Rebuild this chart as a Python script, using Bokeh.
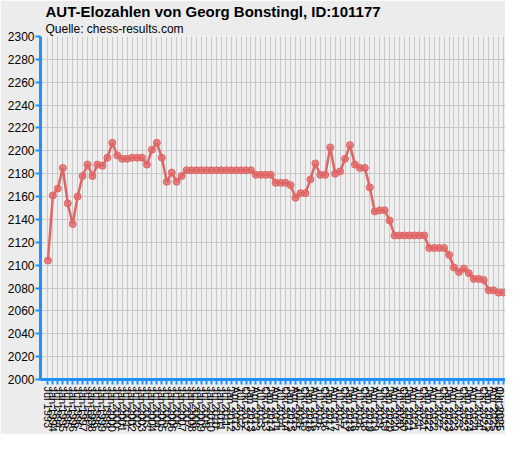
import math
from bokeh.plotting import figure
from bokeh.models import Title, FixedTicker, Range1d, AllLabels, ColumnDataSource
from bokeh.embed import file_html
from bokeh.resources import INLINE

dates = [
    "Jul 1993",
    "Jan 1994", "Jul 1994", "Jan 1995", "Jul 1995", "Jan 1996", "Jul 1996",
    "Jan 1997", "Jul 1997", "Jan 1998", "Jul 1998", "Jan 1999", "Jul 1999",
    "Jan 2000", "Jul 2000", "Jan 2001", "Jul 2001", "Jan 2002", "Jul 2002",
    "Jan 2003", "Jul 2003", "Jan 2004", "Jul 2004", "Jan 2005", "Jul 2005",
    "Jan 2006", "Jul 2006", "Jan 2007", "Jul 2007", "Jan 2008", "Jul 2008",
    "Jan 2009", "Jul 2009", "Jan 2010", "Jul 2010", "Jan 2011", "Jul 2011",
    "Jan 2012", "Apr 2012", "Jul 2012", "Okt 2012",
    "Jan 2013", "Apr 2013", "Jul 2013", "Okt 2013",
    "Jan 2014", "Apr 2014", "Jul 2014", "Okt 2014",
    "Jan 2015", "Apr 2015", "Jul 2015", "Okt 2015",
    "Jan 2016", "Apr 2016", "Jul 2016", "Okt 2016",
    "Jan 2017", "Apr 2017", "Jul 2017", "Okt 2017",
    "Jan 2018", "Apr 2018", "Jul 2018", "Okt 2018",
    "Jan 2019", "Apr 2019", "Jul 2019", "Okt 2019",
    "Jan 2020", "Apr 2020", "Jul 2020", "Okt 2020",
    "Jan 2021", "Apr 2021", "Jul 2021", "Okt 2021",
    "Jan 2022", "Apr 2022", "Jul 2022", "Okt 2022",
    "Jan 2023", "Apr 2023", "Jul 2023", "Okt 2023",
    "Jan 2024", "Apr 2024", "Jul 2024", "Okt 2024",
    "Jan 2025", "Apr 2025", "Jul 2025", "Okt 2025",
]

elo = [
    2104, 2161, 2167, 2185, 2154, 2136, 2160, 2178, 2188, 2178,
    2188, 2187, 2194, 2207, 2196, 2193, 2193, 2194, 2194, 2194,
    2188, 2201, 2207, 2194, 2173, 2181, 2173, 2178, 2183, 2183,
    2183, 2183, 2183, 2183, 2183, 2183, 2183, 2183, 2183, 2183,
    2183, 2183, 2179, 2179, 2179, 2179, 2172, 2172, 2172, 2170,
    2159, 2163, 2163, 2175, 2189, 2179, 2179, 2203, 2180, 2182,
    2193, 2205, 2188, 2185, 2185, 2168, 2147, 2148, 2148, 2139,
    2126, 2126, 2126, 2126, 2126, 2126, 2126, 2115, 2115, 2115,
    2115, 2109, 2098, 2094, 2097, 2093, 2088, 2088, 2087, 2078,
    2078, 2076, 2076,
]

y_ticks = [2000, 2020, 2040, 2060, 2080, 2100, 2120, 2140, 2160, 2180,
           2200, 2220, 2240, 2260, 2280, 2300]

title_text = "AUT-Elozahlen von Georg Bonstingl, ID:101177"
subtitle_text = "Quelle: chess-results.com"

FONT = "Liberation Sans"
BLUE = "#1e90ff"
RED = "#e06666"

idx = list(range(len(dates)))
src = ColumnDataSource(dict(x=idx, elo=elo))

p = figure(width=505, height=434, output_backend="svg", toolbar_location=None,
           x_range=Range1d(-1.5, len(dates) - 1 + 0.4),
           y_range=Range1d(y_ticks[0], y_ticks[-1]),
           min_border_left=40, min_border_right=0, min_border_bottom=49,
           min_border_top=0, min_border=0, title=None)

p.border_fill_color = "#ececec"
p.background_fill_color = "#efefef"
p.outline_line_color = None

p.add_layout(Title(text=subtitle_text, text_font=FONT, text_font_size="12px",
                   text_font_style="normal", text_color="#000000",
                   standoff=1, offset=5, align="left"), "above")
p.add_layout(Title(text=title_text, text_font=FONT, text_font_size="15px",
                   text_font_style="bold", text_color="#000000",
                   standoff=0, offset=5, align="left"), "above")

xt = FixedTicker(ticks=idx)
yt = FixedTicker(ticks=y_ticks)
p.xaxis.ticker = xt
p.yaxis.ticker = yt
p.xgrid.ticker = xt
p.ygrid.ticker = yt
p.grid.grid_line_color = "#c8c8c8"
p.grid.grid_line_width = 1

p.xaxis.major_label_overrides = {i: d for i, d in enumerate(dates)}
p.xaxis.major_label_orientation = -math.pi / 2
p.xaxis.major_label_policy = AllLabels()

for ax in (p.xaxis[0], p.yaxis[0]):
    ax.axis_line_color = BLUE
    ax.axis_line_width = 3
    ax.major_tick_line_color = BLUE
    ax.major_tick_line_width = 2
    ax.major_tick_out = 5
    ax.major_tick_in = 0
    ax.minor_tick_line_color = None
    ax.major_label_text_font = FONT
    ax.major_label_text_color = "#000000"
    ax.major_label_standoff = 1

p.yaxis.major_label_text_font_size = "12px"
p.xaxis.major_label_text_font_size = "11px"
p.xaxis.major_label_standoff = 2

p.line("x", "elo", source=src, line_color=RED, line_width=2.5)
p.scatter("x", "elo", source=src, size=7, fill_color=RED, line_color=RED,
          fill_alpha=0.8)

open("out.html", "w").write(file_html(p, INLINE))
